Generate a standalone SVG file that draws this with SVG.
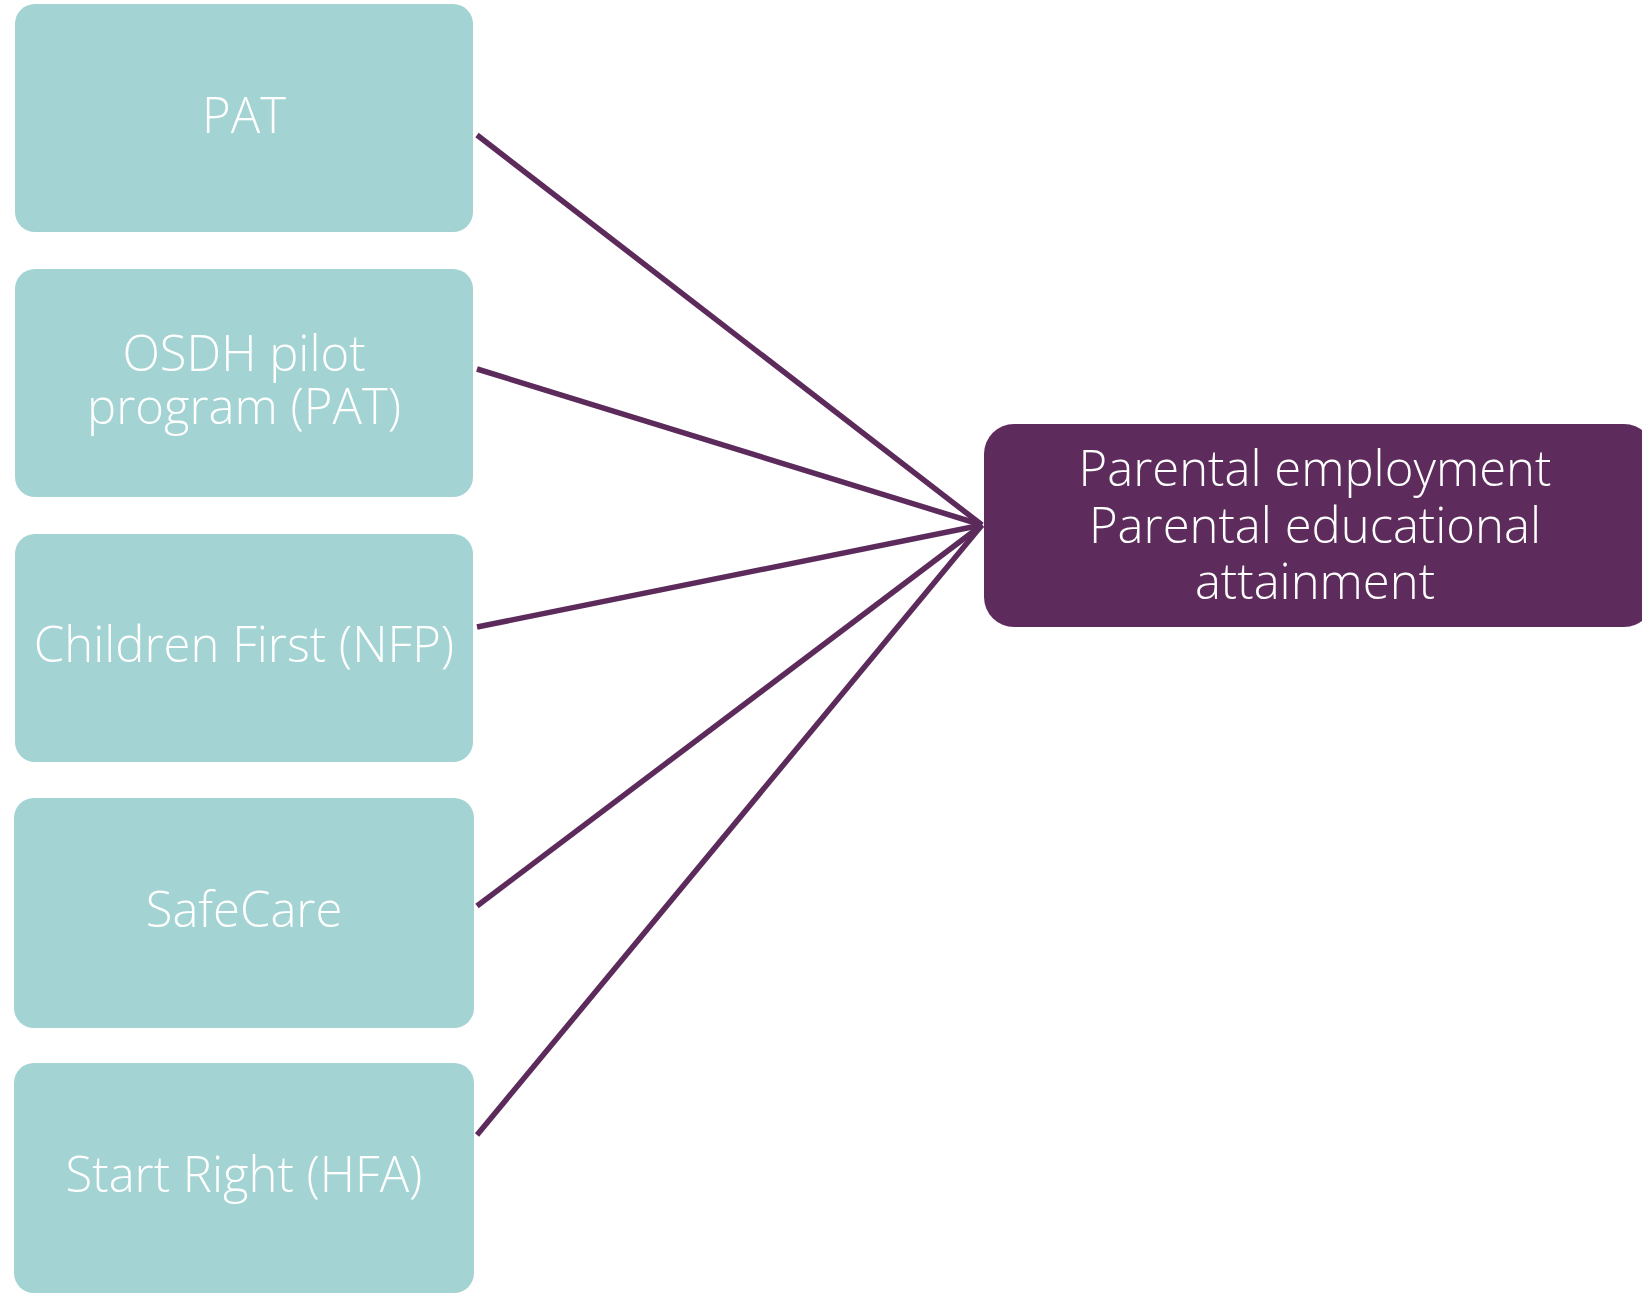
<svg xmlns="http://www.w3.org/2000/svg" width="1642" height="1294" viewBox="0 0 1642 1294">
<style>
.src{fill:#a3d3d2}
.dst{fill:#5e2c5c}
.t{font-family:"Open Sans","Liberation Sans",sans-serif;font-weight:300;font-size:49px;fill:#ffffff;text-anchor:middle}
.c{stroke:#5c2b5b;stroke-width:5.5;fill:none}
</style>
<rect width="1642" height="1294" fill="#ffffff"/>
<g id="connectors">
<line class="c" x1="477" y1="135" x2="982" y2="525"/>
<line class="c" x1="477" y1="369" x2="982" y2="525"/>
<line class="c" x1="477" y1="627" x2="982" y2="525"/>
<line class="c" x1="477" y1="906" x2="982" y2="525"/>
<line class="c" x1="477" y1="1135" x2="982" y2="525"/>
</g>
<g id="n1"><rect class="src" x="15" y="4" width="458" height="228" rx="20"/><text class="t" x="244" y="133">PAT</text></g>
<g id="n2"><rect class="src" x="15" y="269" width="458" height="228" rx="20"/><text class="t" x="244" y="371">OSDH pilot</text><text class="t" x="244" y="424">program (PAT)</text></g>
<g id="n3"><rect class="src" x="15" y="534" width="458" height="228" rx="20"/><text class="t" x="244" y="662">Children First (NFP)</text></g>
<g id="n4"><rect class="src" x="14" y="798" width="460" height="230" rx="20"/><text class="t" x="244" y="927">SafeCare</text></g>
<g id="n5"><rect class="src" x="14" y="1063" width="460" height="230" rx="20"/><text class="t" x="244" y="1192">Start Right (HFA)</text></g>
<g id="n6"><rect class="dst" x="984" y="424" width="670" height="203" rx="30"/><text class="t" x="1315" y="486">Parental employment</text><text class="t" x="1315" y="543">Parental educational</text><text class="t" x="1315" y="599">attainment</text></g>
</svg>
